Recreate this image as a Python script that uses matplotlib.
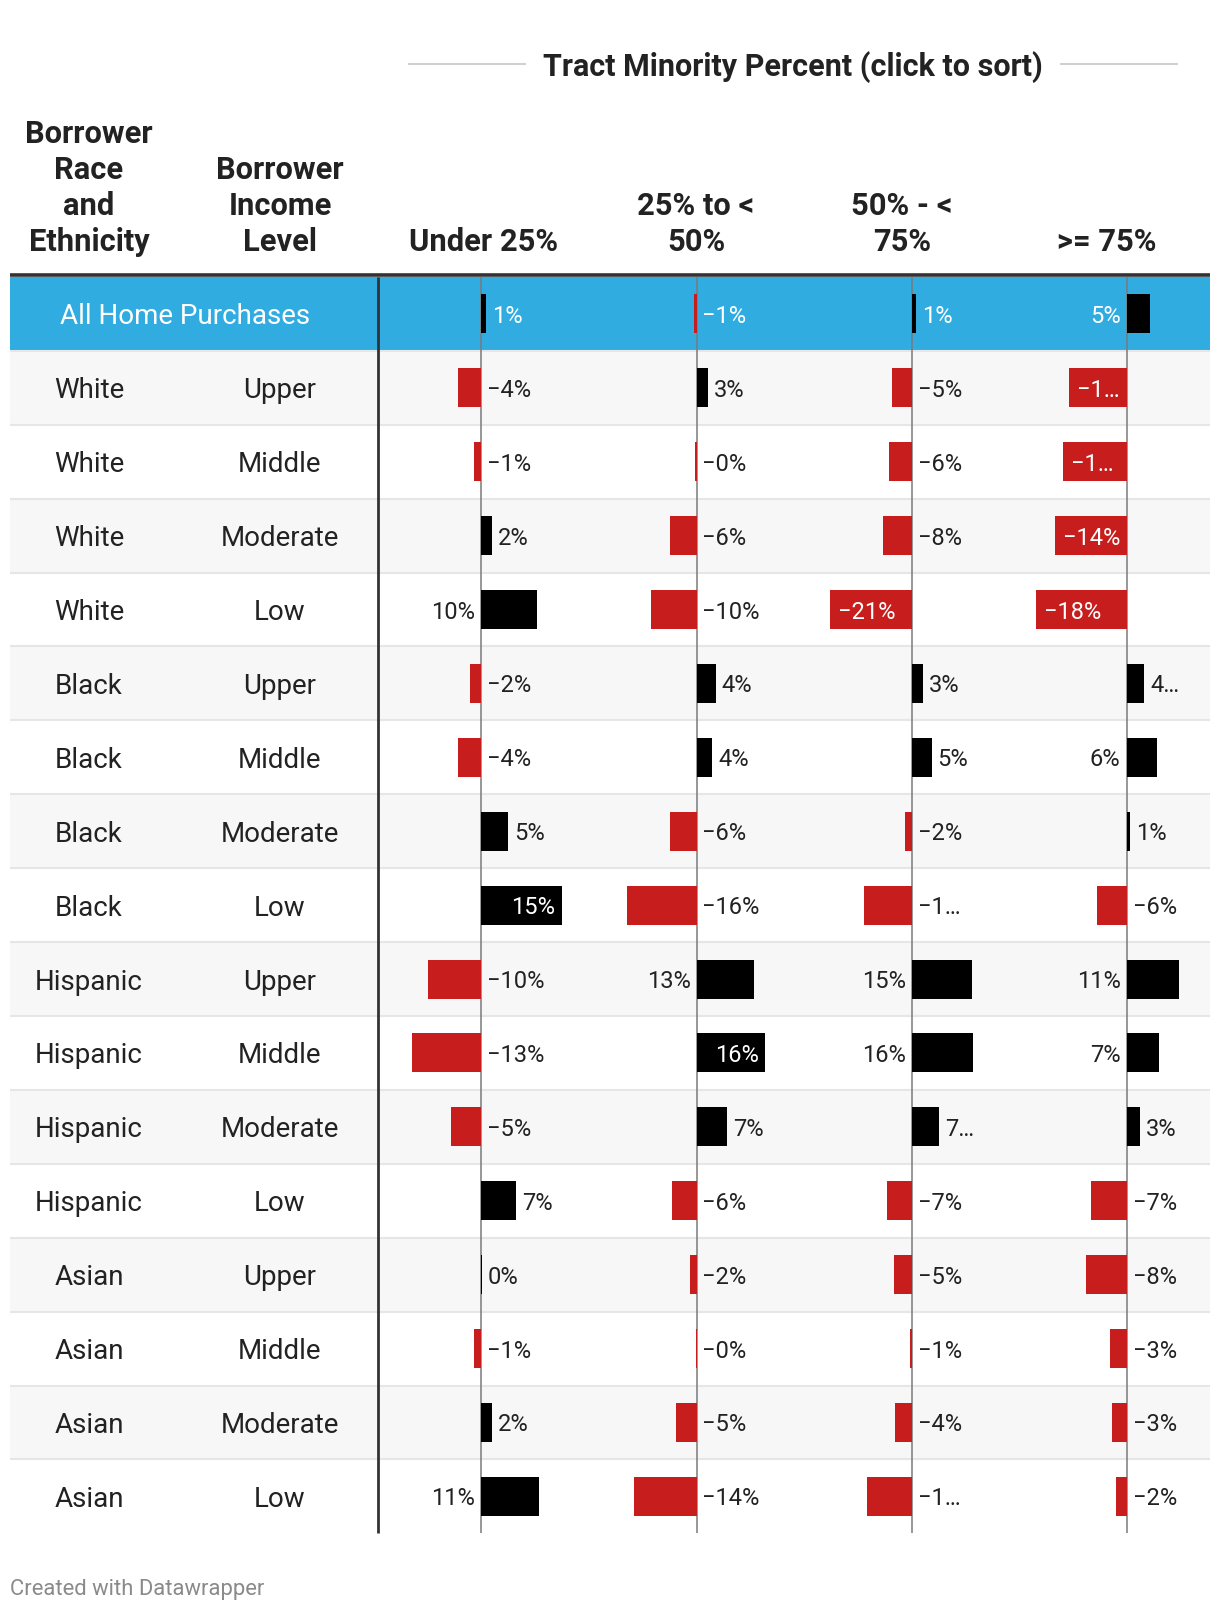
import numpy as np
import matplotlib.pyplot as plt
from matplotlib.patches import Rectangle

plt.rcParams['font.family'] = ['Roboto', 'DejaVu Sans']

# ---- data ----
total_label = 'All Home Purchases'
race = ['White'] * 4 + ['Black'] * 4 + ['Hispanic'] * 4 + ['Asian'] * 4
income = ['Upper', 'Middle', 'Moderate', 'Low'] * 4

header_race = ['Borrower', 'Race', 'and', 'Ethnicity']
header_income = ['Borrower', 'Income', 'Level']
col_titles = [['Under 25%'], ['25% to <', '50%'], ['50% - <', '75%'], ['>= 75%']]
spanner = 'Tract Minority Percent (click to sort)'
footer = 'Created with Datawrapper'

# first value = All Home Purchases, then the 16 race/income rows
under_25 = [1.0, -4.2, -1.2, 2.1, 10.4, -1.9, -4.2, 5.1, 15.0,
            -9.7, -12.7, -5.4, 6.6, 0.2, -1.2, 2.1, 10.9]
from_25_to_50 = [-0.6, 2.6, -0.4, -6.1, -10.2, 4.3, 3.5, -6.1, -15.8,
                 12.9, 15.6, 7.0, -5.6, -1.5, -0.2, -4.7, -14.1]
from_50_to_75 = [0.85, -5.3, -5.9, -7.6, -21.2, 2.8, 4.9, -1.8, -12.4,
                 15.3, 15.6, 6.8, -6.6, -4.8, -0.7, -4.4, -11.6]
over_75 = [4.7, -11.6, -12.9, -14.4, -18.3, 3.6, 6.2, 0.7, -5.9,
           10.6, 6.6, 2.7, -7.1, -8.3, -3.4, -3.0, -2.2]
columns = [under_25, from_25_to_50, from_50_to_75, over_75]

# ---- layout (pixels) ----
W, H = 1220, 1610
top = 277
row_h = 73.9
n = len(under_25)
zero_x = [480.6, 696.5, 912.4, 1126.6]
px_per_unit = [5.4, 4.42, 3.9, 4.95]
cells = [(380, 597), (597, 816), (816, 1030), (1030, 1210)]
right_lim = [575, 790, 971, 1178]
title_x = [484, 696, 902, 1107]

BLUE = '#30ace0'
RED = '#c71e1d'
TXT = '#222222'

fig = plt.figure(figsize=(W / 100, H / 100), dpi=100)
renderer = fig.canvas.get_renderer()

ax = fig.add_axes([0, 0, 1, 1])
ax.set_xlim(0, W)
ax.set_ylim(H, 0)
ax.axis('off')

# row backgrounds
for i in range(n):
    y = top + i * row_h
    if i == 0:
        c = BLUE
    elif i % 2 == 1:
        c = '#f7f7f7'
    else:
        c = 'white'
    ax.add_patch(Rectangle((10, y), 1200, row_h, color=c, lw=0, zorder=0))
for i in range(1, n):
    ax.hlines(top + i * row_h, 10, 1210, color='#e6e6e6', lw=1.5, zorder=1)

ax.hlines(top - 2, 10, 1210, color='#333333', lw=2.6, zorder=2)
ax.vlines(378, top, top + n * row_h, color='#333333', lw=2.0, zorder=2)

# row names
for i in range(n):
    yc = top + (i + 0.5) * row_h
    if i == 0:
        ax.text(185, yc, total_label, ha='center', va='center_baseline',
                fontsize=20, color='white', zorder=3)
    else:
        ax.text(89, yc, race[i - 1], ha='center', va='center_baseline',
                fontsize=20, color=TXT, zorder=3)
        ax.text(280, yc, income[i - 1], ha='center', va='center_baseline',
                fontsize=20, color=TXT, zorder=3)

# headers
def header(x, lines):
    for j, line in enumerate(reversed(lines)):
        ax.text(x, 239 - 36 * j, line, ha='center', va='center_baseline',
                fontsize=22.2, fontweight='bold', color=TXT)

header(89, header_race)
header(280, header_income)
for x, lines in zip(title_x, col_titles):
    header(x, lines)

ax.text(793, 64, spanner, ha='center', va='center_baseline', fontsize=22,
        fontweight='bold', color=TXT)
ax.hlines(64, 408, 526, color='#cccccc', lw=1.3)
ax.hlines(64, 1060, 1178, color='#cccccc', lw=1.3)

ax.text(10, 1587, footer, ha='left', va='center_baseline', fontsize=15.8,
        color='#8a8a8a')

# ---- bar columns ----
LAB_SIZE = 17
PAD = 6


def fmt(v):
    sign = '\u2212' if v < 0 else ''
    return f'{sign}{abs(round(v))}%'


def text_w(s):
    t = fig.text(0, 0, s, fontsize=LAB_SIZE)
    w = t.get_window_extent(renderer).width
    t.remove()
    return w


def fit(s, maxw):
    if maxw is None or text_w(s) <= maxw:
        return s
    keep = 2 if s.startswith('\u2212') else 1
    for k in range(len(s) - 1, 0, -1):
        t = s[:k] + '\u2026'
        if text_w(t) <= maxw or k <= keep:
            return t
    return s


for k, vals in enumerate(columns):
    xl, xr = cells[k]
    z = zero_x[k]
    s = px_per_unit[k]
    R = right_lim[k]
    cax = fig.add_axes([xl / W, 1 - (top + n * row_h) / H,
                        (xr - xl) / W, n * row_h / H])
    cax.set_xlim((xl - z) / s, (xr - z) / s)
    cax.set_ylim(n, 0)
    cax.axis('off')
    cax.axvline(0, color='#7a7a7a', lw=1.1, zorder=1)
    yy = np.arange(n) + 0.5
    cax.barh(yy, vals, height=39 / row_h,
             color=['black' if v >= 0 else RED for v in vals], zorder=2)

    for i, v in enumerate(vals):
        lab = fmt(v)
        w = text_w(lab)
        bar = abs(v) * s
        inside = False
        if v >= 0:
            e = z + bar
            if e + PAD + 0.85 * w <= R:
                px, ha, maxw = e + PAD, 'left', R - e - PAD
            elif bar >= w + 20:
                px, ha, maxw, inside = e - 7, 'right', None, True
            elif z - PAD - w >= xl:
                px, ha, maxw = z - PAD, 'right', None
            else:
                px, ha, maxw = e + PAD, 'left', R - e - PAD
        else:
            b = z - bar
            space = R - z - PAD
            if bar >= w + 20:
                px, ha, maxw, inside = b + 8, 'left', None, True
            elif z + PAD + 0.85 * w <= R:
                px, ha, maxw = z + PAD, 'left', space
            elif bar > space:
                px, ha, maxw, inside = b + 8, 'left', bar - 12, True
            else:
                px, ha, maxw = z + PAD, 'left', space
        col = 'white' if (inside or i == 0) else TXT
        cax.text((px - z) / s, yy[i], fit(lab, maxw), ha=ha,
                 va='center_baseline', fontsize=LAB_SIZE, color=col, zorder=3)

fig.savefig('out.png', dpi=100)
